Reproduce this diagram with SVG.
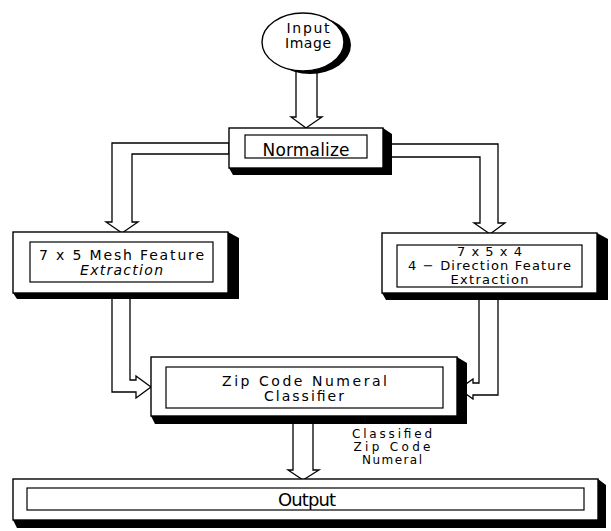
<svg xmlns="http://www.w3.org/2000/svg" width="611" height="531" viewBox="0 0 611 531">
<style>
.conn polygon{fill:#fff;stroke:#000;stroke-width:1.3;stroke-linejoin:miter}
.box{fill:#fff;stroke:#000;stroke-width:1.4}
.inner{fill:none;stroke:#000;stroke-width:1.2}
.sh{fill:#000}
text{font-family:"DejaVu Sans","Liberation Sans",sans-serif;fill:#000;text-anchor:middle}
.t14{font-size:14px}
.t13{font-size:13px}
.t12{font-size:12px}
</style>
<rect width="611" height="531" fill="#fff"/>
<g id="connectors" class="conn">
<polygon points="296,60 317,60 317,117 322,117 306,128 291,117 296,117"/>
<polygon points="229,143 112,143 112,222 106,222 122,233 138,222 132,222 132,154 229,154"/>
<polygon points="383,144 498,144 498,223 505,223 490,234 474,223 480,223 480,157 383,157"/>
<polygon points="112,293 112,392 136,392 136,398 151,387 136,376 136,380 130,380 130,293"/>
<polygon points="498,294 498,395 473,395 473,399 459,389 473,379 473,383 479,383 479,294"/>
<polygon points="293,416 293,470 288,470 303,480 319,470 313,470 313,416"/>
</g>
<g id="input-image">
<ellipse cx="310" cy="45" rx="41" ry="29" class="sh"/>
<ellipse cx="303" cy="42" rx="41" ry="29" class="box"/>
<text class="t14" x="308" y="33" textLength="43" lengthAdjust="spacing">Input</text>
<text class="t14" x="308" y="48" textLength="46" lengthAdjust="spacing">Image</text>
</g>
<g id="normalize">
<polygon class="sh" points="383,128 392,134 392,175 233,175 229,168 383,168"/>
<rect class="box" x="229" y="128" width="154" height="40"/>
<rect class="inner" x="245" y="135" width="122" height="23"/>
<text x="306" y="156" font-size="17" textLength="87" lengthAdjust="spacing">Normalize</text>
</g>
<g id="mesh">
<polygon class="sh" points="228,232 239,238 239,299 17,299 13,293 228,293"/>
<rect class="box" x="13" y="232" width="215" height="61"/>
<rect class="inner" x="30" y="242" width="183" height="40"/>
<text class="t14" x="121.5" y="260" textLength="165" lengthAdjust="spacing">7 x 5 Mesh Feature</text>
<text class="t14" x="121.5" y="275" font-style="italic" textLength="83" lengthAdjust="spacing">Extraction</text>
</g>
<g id="direction">
<polygon class="sh" points="597,233 608,239 608,300 386,300 382,293 597,293"/>
<rect class="box" x="382" y="233" width="215" height="60"/>
<rect class="inner" x="397" y="245" width="185" height="42"/>
<text class="t13" x="489.5" y="256" textLength="65" lengthAdjust="spacing">7 x 5 x 4</text>
<text class="t13" x="489.5" y="270" textLength="163" lengthAdjust="spacing">4 − Direction Feature</text>
<text class="t13" x="489.5" y="284" textLength="78" lengthAdjust="spacing">Extraction</text>
</g>
<g id="classifier">
<polygon class="sh" points="457,357 467,363 467,424 155,424 151,416 457,416"/>
<rect class="box" x="151" y="357" width="306" height="59"/>
<rect class="inner" x="166" y="367" width="277" height="41"/>
<text class="t14" x="304.5" y="386" textLength="165" lengthAdjust="spacing">Zip Code Numeral</text>
<text class="t14" x="304" y="401" textLength="80" lengthAdjust="spacing">Classifier</text>
</g>
<g id="label">
<text class="t12" x="392" y="438" textLength="80" lengthAdjust="spacing">Classified</text>
<text class="t12" x="392" y="451" textLength="77" lengthAdjust="spacing">Zip Code</text>
<text class="t12" x="392" y="464" textLength="60" lengthAdjust="spacing">Numeral</text>
</g>
<g id="output">
<polygon class="sh" points="598,479 606,485 606,528 17,528 13,520 598,520"/>
<rect class="box" x="13" y="479" width="585" height="41"/>
<rect class="inner" x="27" y="488" width="557" height="22"/>
<text x="307" y="506" font-size="18" textLength="58" lengthAdjust="spacing">Output</text>
</g>
</svg>
